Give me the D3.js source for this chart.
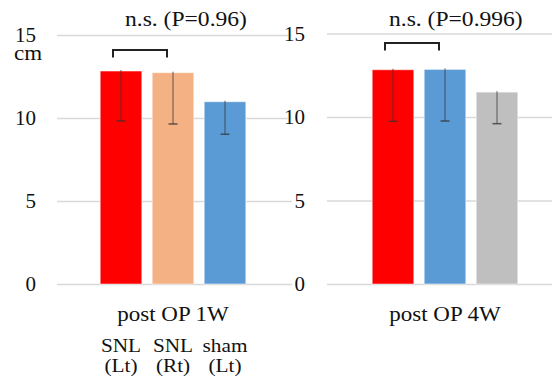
<!DOCTYPE html>
<html>
<head>
<meta charset="utf-8">
<script src="https://cdn.jsdelivr.net/npm/d3@7"></script>
<style>
  body { margin: 0; background: white; }
  text { font-family: "Liberation Serif", "Times New Roman", serif; fill: #111; }
</style>
</head>
<body>
<div id="chart"></div>
<script>
const w = 552;
const h = 380;

// data
const groups = ['post OP 1W', 'post OP 4W'];
const names1W = ['SNL (Lt)', 'SNL (Rt)', 'sham (Lt)'];
const means1W = [12.83, 12.73, 10.98];
const errs1W = [3.01, 3.09, 1.96];
const names4W = ['SNL (Lt)', 'SNL (Rt)', 'sham (Lt)'];
const means4W = [12.83, 12.85, 11.49];
const errs4W = [3.09, 3.09, 1.89];
const subLabels = [['SNL', '(Lt)'], ['SNL', '(Rt)'], ['sham', '(Lt)']];
const pLabels = ['n.s. (P=0.96)', 'n.s. (P=0.996)'];
const yTicks = [0, 5, 10, 15];

const colors1W = ['#ff0000', '#f4b183', '#5b9bd5'];
const colors4W = ['#ff0000', '#5b9bd5', '#bfbfbf'];

const svg = d3.select('#chart')
  .append('svg')
  .attr('width', w)
  .attr('height', h)
  .style('background-color', 'white');

const stretch = 1.15;
function addText(x, y, str, size, anchor) {
  svg.append('text')
    .attr('transform', `translate(${x},${y}) scale(${stretch},1)`)
    .attr('text-anchor', anchor || 'middle')
    .attr('font-size', size + 'px')
    .text(str);
}

const panels = [
  {names: names1W, means: means1W, errs: errs1W, colors: colors1W,
   gx: [57, 292], y0: 284, y15: 35, band: [95, 251], labelX: 36,
   bracketY: 50, pX: 125, pY: 25.5},
  {names: names4W, means: means4W, errs: errs4W, colors: colors4W,
   gx: [327, 552], y0: 284, y15: 33.5, band: [367, 523], labelX: 305,
   bracketY: 43, pX: 389, pY: 25.5}
];

panels.forEach((p, gi) => {
  const y = d3.scaleLinear().domain([0, 15]).range([p.y0, p.y15]);
  const x = d3.scaleBand().domain(p.names).range(p.band).paddingInner(0.2).paddingOuter(0.1);

  const axis = d3.axisLeft(y)
    .tickValues(yTicks)
    .tickSize(-(p.gx[1] - p.gx[0]))
    .tickPadding(p.gx[0] - p.labelX);
  const ga = svg.append('g')
    .attr('transform', `translate(${p.gx[0]},0)`)
    .call(axis);
  ga.select('.domain').remove();
  ga.selectAll('.tick line').attr('stroke', '#d9d9d9').attr('stroke-width', 1.3);
  ga.selectAll('.tick text')
    .attr('font-size', '21px')
    .attr('font-family', '"Liberation Serif", serif')
    .attr('fill', '#111')
    .attr('stroke', 'white')
    .attr('stroke-width', 1.5)
    .attr('paint-order', 'stroke');

  const data = p.names.map((n, i) => ({name: n, mean: p.means[i], err: p.errs[i], color: p.colors[i]}));

  svg.selectAll(null)
    .data(data)
    .enter()
    .append('rect')
    .attr('x', d => x(d.name))
    .attr('y', d => y(d.mean))
    .attr('width', x.bandwidth())
    .attr('height', d => y(0) - y(d.mean))
    .attr('fill', d => d.color)
    .attr('stroke', 'white')
    .attr('stroke-opacity', 0.5)
    .attr('stroke-width', 1);

  // lower error bars only
  const eb = svg.selectAll(null)
    .data(data)
    .enter()
    .append('g')
    .attr('stroke', '#333')
    .attr('stroke-opacity', 0.75)
    .attr('stroke-width', 1);
  eb.append('line')
    .attr('x1', d => x(d.name) + x.bandwidth() / 2)
    .attr('x2', d => x(d.name) + x.bandwidth() / 2)
    .attr('y1', d => y(d.mean) - 1)
    .attr('y2', d => y(d.mean - d.err));
  eb.append('line')
    .attr('x1', d => x(d.name) + x.bandwidth() / 2 - 4.5)
    .attr('x2', d => x(d.name) + x.bandwidth() / 2 + 4.5)
    .attr('y1', d => y(d.mean - d.err))
    .attr('y2', d => y(d.mean - d.err))
    .attr('stroke-width', 1.5);

  // significance bracket between first two bars
  const bx1 = x(p.names[0]) + x.bandwidth() / 2 - 8;
  const bx2 = x(p.names[1]) + x.bandwidth() / 2 - 6;
  svg.append('path')
    .attr('d', `M${bx1},${p.bracketY + 7.5}V${p.bracketY}H${bx2}V${p.bracketY + 7.5}`)
    .attr('fill', 'none')
    .attr('stroke', '#222')
    .attr('stroke-width', 2);

  addText(p.pX, p.pY, pLabels[gi], 20.5, 'start');

  const cx = (p.band[0] + p.band[1]) / 2;
  addText(cx, 321, groups[gi], 20);
});

// sub labels under the first group
const xs = d3.scaleBand().domain(names1W).range(panels[0].band).paddingInner(0.2).paddingOuter(0.1);
names1W.forEach((n, i) => {
  const cx = xs(n) + xs.bandwidth() / 2;
  addText(cx, 352, subLabels[i][0], 18.5);
  addText(cx, 372, subLabels[i][1], 18.5);
});

addText(14, 60, 'cm', 20, 'start');
</script>
</body>
</html>
